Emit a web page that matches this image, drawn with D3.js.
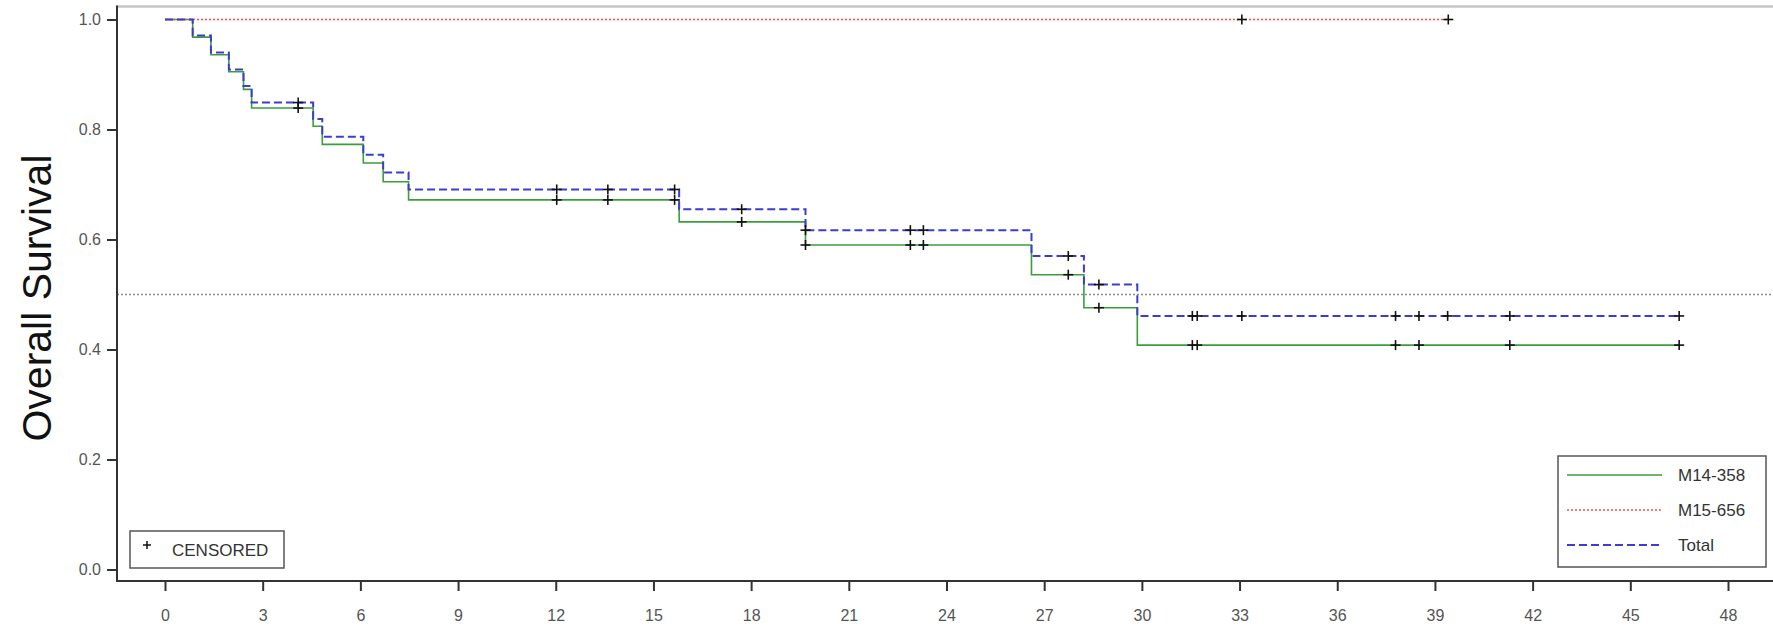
<!DOCTYPE html>
<html>
<head>
<meta charset="utf-8">
<script src="https://cdn.jsdelivr.net/npm/d3@7"></script>
<style>
  html, body { margin: 0; padding: 0; background: #fff; }
  svg { display: block; font-family: "Liberation Sans", Arial, sans-serif; }
</style>
</head>
<body>
<svg id="chart" width="1773" height="630"></svg>
<script>
// ---- data (months, survival probability) ----
const eventTimes   = [0.85, 1.41, 1.96, 2.41, 2.66, 4.55, 4.83, 6.09, 6.70, 7.48, 15.79, 19.67, 26.61, 28.22, 29.86];
const survM14      = [0.968, 0.936, 0.905, 0.873, 0.839, 0.806, 0.773, 0.739, 0.705, 0.672, 0.632, 0.590, 0.536, 0.476, 0.408];
const survTotal    = [0.971, 0.940, 0.909, 0.879, 0.849, 0.819, 0.787, 0.754, 0.722, 0.691, 0.655, 0.617, 0.570, 0.518, 0.461];
const endM14 = 46.5, endTotal = 46.5, endM15 = 39.41;
const censM14   = [4.09, 12.03, 13.6, 15.65, 17.71, 19.67, 22.89, 23.29, 27.74, 28.68, 31.55, 31.7, 37.79, 38.51, 41.3, 46.5];
const censTotal = [4.09, 12.03, 13.6, 15.65, 17.71, 19.67, 22.89, 23.29, 27.74, 28.68, 31.55, 31.7, 33.07, 37.79, 38.51, 39.39, 41.3, 46.5];
const censM15   = [33.07, 39.41];
const xTicks = [0, 3, 6, 9, 12, 15, 18, 21, 24, 27, 30, 33, 36, 39, 42, 45, 48];
const yTicks = [0.0, 0.2, 0.4, 0.6, 0.8, 1.0];
const seriesNames = ["M14-358", "M15-656", "Total"];

// ---- layout ----
const svg = d3.select("#chart");
const x = d3.scaleLinear().domain([0, 48]).range([165, 1728]);
const y = d3.scaleLinear().domain([0, 1]).range([569.5, 19.5]);
const axisX = 117, axisY = 581, W = 1773;
const font = '"Liberation Sans", Arial, sans-serif';

// frame
svg.append("line").attr("x1", axisX).attr("x2", W).attr("y1", 6.5).attr("y2", 6.5)
  .attr("stroke", "#c4c4c4").attr("stroke-width", 2.5);
svg.append("line").attr("x1", axisX).attr("x2", W).attr("y1", y(0.5)).attr("y2", y(0.5))
  .attr("stroke", "#8a8a8a").attr("stroke-width", 1.5).attr("stroke-dasharray", "2,2");

// axes
const gx = svg.append("g").attr("transform", `translate(0,${axisY})`)
  .call(d3.axisBottom(x).tickValues(xTicks).tickSize(10).tickPadding(19).tickFormat(d3.format("d")));
const gy = svg.append("g").attr("transform", `translate(${axisX},0)`)
  .call(d3.axisLeft(y).tickValues(yTicks).tickSize(10).tickPadding(6).tickFormat(d3.format(".1f")));
[gx, gy].forEach(g => {
  g.select(".domain").remove();
  g.selectAll(".tick line").attr("stroke", "#333").attr("stroke-width", 2);
  g.selectAll(".tick text").attr("fill", "#555").style("font-size", "16px").style("font-family", font);
});
svg.append("line").attr("x1", axisX).attr("x2", axisX).attr("y1", 5.5).attr("y2", axisY + 1)
  .attr("stroke", "#333").attr("stroke-width", 2);
svg.append("line").attr("x1", axisX - 1).attr("x2", W).attr("y1", axisY).attr("y2", axisY)
  .attr("stroke", "#333").attr("stroke-width", 2);

// y title
svg.append("text").attr("transform", "translate(51,298) rotate(-90)")
  .attr("text-anchor", "middle").style("font-size", "41px").style("font-family", font)
  .attr("fill", "#111").text("Overall Survival");

// ---- curves ----
function stepPoints(times, vals, end) {
  const pts = [[0, 1]];
  times.forEach((t, i) => pts.push([t, vals[i]]));
  pts.push([end, vals.length ? vals[vals.length - 1] : 1]);
  return pts;
}
function levelAt(times, vals, t) {
  let v = 1;
  times.forEach((tt, i) => { if (tt <= t + 1e-9) v = vals[i]; });
  return v;
}
const line = d3.line().x(d => x(d[0])).y(d => y(d[1])).curve(d3.curveStepAfter);

const styles = {
  "M14-358": { color: "#3a9e3a", dash: null, width: 1.6 },
  "M15-656": { color: "#ff4a4a", dash: "2,2", width: 1.6 },
  "Total":   { color: "#3c3cd2", dash: "8,4", width: 2 }
};

svg.append("path").datum(stepPoints(eventTimes, survM14, endM14)).attr("d", line)
  .attr("fill", "none").attr("stroke", styles["M14-358"].color).attr("stroke-width", styles["M14-358"].width);
svg.append("path").datum(stepPoints([], [], endM15)).attr("d", line)
  .attr("fill", "none").attr("stroke", styles["M15-656"].color).attr("stroke-width", styles["M15-656"].width)
  .attr("stroke-dasharray", styles["M15-656"].dash);
svg.append("path").datum(stepPoints(eventTimes, survTotal, endTotal)).attr("d", line)
  .attr("fill", "none").attr("stroke", styles["Total"].color).attr("stroke-width", styles["Total"].width)
  .attr("stroke-dasharray", styles["Total"].dash);

// censor marks
const cens = [];
censM14.forEach(t => cens.push([t, levelAt(eventTimes, survM14, t)]));
censTotal.forEach(t => cens.push([t, levelAt(eventTimes, survTotal, t)]));
censM15.forEach(t => cens.push([t, 1]));
const cg = svg.append("g").attr("stroke", "#111").attr("stroke-width", 1.6);
cens.forEach(([t, s]) => {
  const cx = x(t), cy = y(s);
  cg.append("line").attr("x1", cx - 5).attr("x2", cx + 5).attr("y1", cy).attr("y2", cy);
  cg.append("line").attr("x1", cx).attr("x2", cx).attr("y1", cy - 5).attr("y2", cy + 5);
});

// ---- legend ----
svg.append("rect").attr("x", 1558).attr("y", 456).attr("width", 208).attr("height", 111)
  .attr("fill", "#fff").attr("stroke", "#555").attr("stroke-width", 1.5);
seriesNames.forEach((name, i) => {
  const ly = 475 + i * 35, st = styles[name];
  svg.append("line").attr("x1", 1567).attr("x2", 1662).attr("y1", ly).attr("y2", ly)
    .attr("stroke", st.color).attr("stroke-width", st.width).attr("stroke-dasharray", st.dash);
  svg.append("text").attr("x", 1678).attr("y", ly).attr("dy", "0.35em")
    .style("font-size", "17px").style("font-family", font).attr("fill", "#333").text(name);
});

// censored box
svg.append("rect").attr("x", 130).attr("y", 531).attr("width", 154).attr("height", 37)
  .attr("fill", "#fff").attr("stroke", "#555").attr("stroke-width", 1.5);
svg.append("line").attr("x1", 143).attr("x2", 151).attr("y1", 545).attr("y2", 545).attr("stroke", "#111").attr("stroke-width", 1.5);
svg.append("line").attr("x1", 147).attr("x2", 147).attr("y1", 541).attr("y2", 549).attr("stroke", "#111").attr("stroke-width", 1.5);
svg.append("text").attr("x", 172).attr("y", 550).attr("dy", "0.35em")
  .style("font-size", "17px").style("font-family", font).attr("fill", "#333").text("CENSORED");
</script>
</body>
</html>
